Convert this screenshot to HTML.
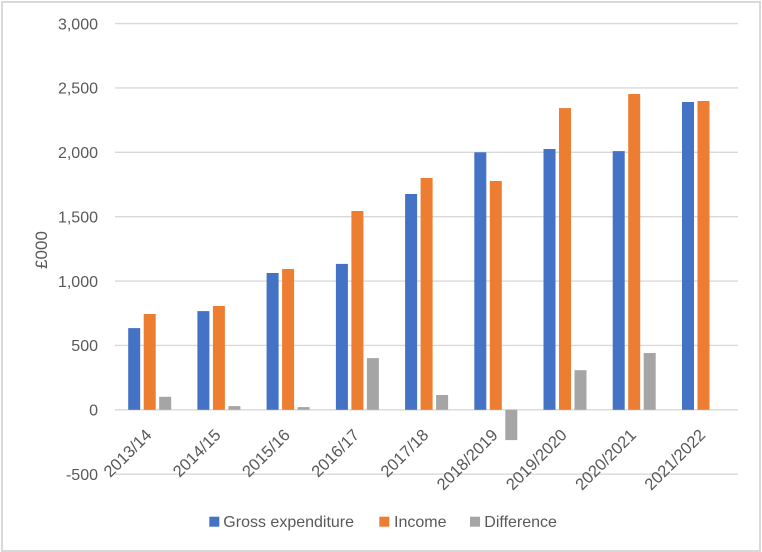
<!DOCTYPE html>
<html>
<head>
<meta charset="utf-8">
<style>
  html, body { margin:0; padding:0; background:#fff; }
  svg { display:block; }
  text { font-family: "Liberation Sans", "DejaVu Sans", sans-serif; fill:#595959; }
</style>
</head>
<body>
<svg width="762" height="552" viewBox="0 0 762 552" xmlns="http://www.w3.org/2000/svg">
  <rect x="0" y="0" width="762" height="552" fill="#fff"/>
  <rect x="2" y="2" width="758" height="549" fill="none" stroke="#d9d9d9" stroke-width="2"/>

  <!-- gridlines -->
  <g stroke="#d9d9d9" stroke-width="1.4">
    <line x1="115" x2="738" y1="23.6" y2="23.6"/>
    <line x1="115" x2="738" y1="87.9" y2="87.9"/>
    <line x1="115" x2="738" y1="152.3" y2="152.3"/>
    <line x1="115" x2="738" y1="216.7" y2="216.7"/>
    <line x1="115" x2="738" y1="281.1" y2="281.1"/>
    <line x1="115" x2="738" y1="345.4" y2="345.4"/>
    <line x1="115" x2="738" y1="409.8" y2="409.8"/>
    <line x1="115" x2="738" y1="474.2" y2="474.2"/>
  </g>

  <!-- y tick labels -->
  <g font-size="16" text-anchor="end">
    <text x="98" y="29.4">3,000</text>
    <text x="98" y="93.7">2,500</text>
    <text x="98" y="158.1">2,000</text>
    <text x="98" y="222.5">1,500</text>
    <text x="98" y="286.9">1,000</text>
    <text x="98" y="351.2">500</text>
    <text x="98" y="415.6">0</text>
    <text x="98" y="480">-500</text>
  </g>

  <!-- y axis title -->
  <text font-size="17" text-anchor="middle" transform="translate(47,250) rotate(-90)">£000</text>

  <!-- bars: blue -->
  <g fill="#4472c4">
    <rect x="128.2" y="328.1" width="12" height="81.7"/>
    <rect x="197.4" y="311.1" width="12" height="98.7"/>
    <rect x="266.6" y="273.0" width="12" height="136.8"/>
    <rect x="335.9" y="263.9" width="12" height="145.9"/>
    <rect x="405.1" y="194.0" width="12" height="215.8"/>
    <rect x="474.3" y="152.3" width="12" height="257.5"/>
    <rect x="543.5" y="149.0" width="12" height="260.8"/>
    <rect x="612.7" y="151.1" width="12" height="258.7"/>
    <rect x="682.0" y="102.0" width="12" height="307.8"/>
  </g>
  <!-- orange -->
  <g fill="#ed7d31">
    <rect x="143.7" y="314.0" width="12" height="95.8"/>
    <rect x="212.9" y="306.0" width="12" height="103.8"/>
    <rect x="282.1" y="269.0" width="12" height="140.8"/>
    <rect x="351.4" y="211.0" width="12" height="198.8"/>
    <rect x="420.6" y="178.0" width="12" height="231.8"/>
    <rect x="489.8" y="181.0" width="12" height="228.8"/>
    <rect x="559.0" y="108.1" width="12" height="301.7"/>
    <rect x="628.2" y="94.0" width="12" height="315.8"/>
    <rect x="697.5" y="101.0" width="12" height="308.8"/>
  </g>
  <!-- gray -->
  <g fill="#a5a5a5">
    <rect x="159.2" y="396.8" width="12" height="13.0"/>
    <rect x="228.4" y="406.1" width="12" height="3.7"/>
    <rect x="297.6" y="407.1" width="12" height="2.7"/>
    <rect x="366.9" y="358.1" width="12" height="51.7"/>
    <rect x="436.1" y="395.0" width="12" height="14.8"/>
    <rect x="505.3" y="409.8" width="12" height="30.3"/>
    <rect x="574.5" y="370.2" width="12" height="39.6"/>
    <rect x="643.7" y="353.0" width="12" height="56.8"/>
  </g>

  <!-- x labels -->
  <g font-size="16.5" text-anchor="end">
    <text transform="translate(152.6,436) rotate(-45)">2013/14</text>
    <text transform="translate(221.8,436) rotate(-45)">2014/15</text>
    <text transform="translate(291.0,436) rotate(-45)">2015/16</text>
    <text transform="translate(360.3,436) rotate(-45)">2016/17</text>
    <text transform="translate(429.5,436) rotate(-45)">2017/18</text>
    <text transform="translate(498.7,436) rotate(-45)">2018/2019</text>
    <text transform="translate(567.9,436) rotate(-45)">2019/2020</text>
    <text transform="translate(637.1,436) rotate(-45)">2020/2021</text>
    <text transform="translate(706.4,436) rotate(-45)">2021/2022</text>
  </g>

  <!-- legend -->
  <rect x="209.3" y="516.7" width="10" height="10" fill="#4472c4"/>
  <text x="223.3" y="527" font-size="16">Gross expenditure</text>
  <rect x="379.3" y="516.7" width="10" height="10" fill="#ed7d31"/>
  <text x="394" y="527" font-size="16">Income</text>
  <rect x="470" y="516.7" width="10" height="10" fill="#a5a5a5"/>
  <text x="484.3" y="527" font-size="16">Difference</text>
</svg>
</body>
</html>
